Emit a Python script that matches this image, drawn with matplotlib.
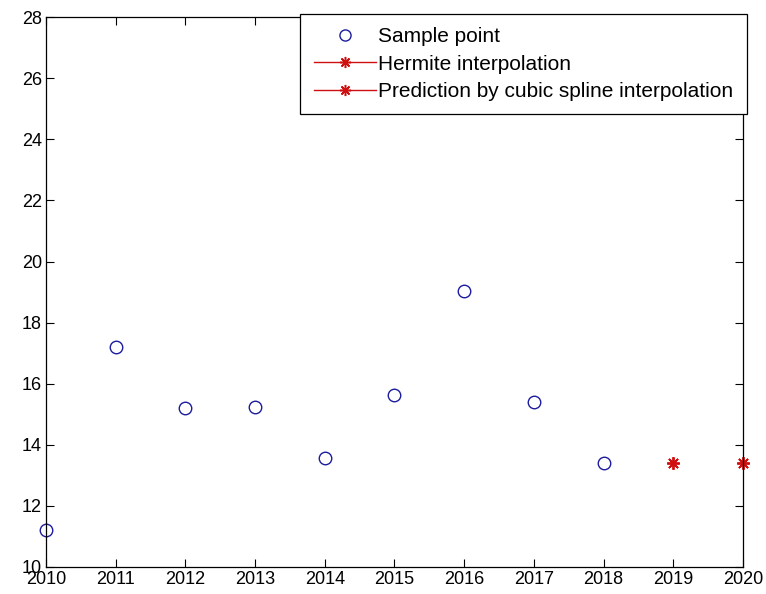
import matplotlib.pyplot as plt
from matplotlib.lines import Line2D

plt.rcParams['font.family'] = ['Liberation Sans', 'DejaVu Sans']

# Sample data
years = [2010, 2011, 2012, 2013, 2014, 2015, 2016, 2017, 2018]
values = [11.2, 17.2, 15.2, 15.24, 13.57, 15.63, 19.03, 15.4, 13.4]

# Predicted values
pred_years = [2019, 2020]
hermite_vals = [13.42, 13.42]
spline_vals = [13.42, 13.42]

blue = '#1c1c9e'
red = '#d01010'
star = (8, 2, 0)  # matlab style asterisk

fig = plt.figure(figsize=(7.66, 5.94), dpi=100)
ax = fig.add_axes([0.060, 0.0455, 0.910, 0.9255])

ax.plot(years, values, 'o', color=blue, markerfacecolor='none',
        markersize=9, markeredgewidth=1.0, clip_on=False)
ax.plot(pred_years, hermite_vals, linestyle='none', marker=star, color=red,
        markersize=9, markeredgewidth=1.2, clip_on=False)
ax.plot(pred_years, spline_vals, linestyle='none', marker=star, color=red,
        markersize=9, markeredgewidth=1.2, clip_on=False)

ax.set_xlim(2010, 2020)
ax.set_ylim(10, 28)
ax.set_xticks(range(2010, 2021))
ax.set_yticks(range(10, 29, 2))
ax.tick_params(direction='in', top=True, right=True, labelsize=13, length=6,
               width=0.8, pad=3)
for s in ax.spines.values():
    s.set_linewidth(0.9)

handles = [
    Line2D([], [], linestyle='none', marker='o', color=blue,
           markerfacecolor='none', markersize=8),
    Line2D([], [], linestyle='-', marker=star, color=red, markersize=8,
           markeredgewidth=1.1, linewidth=1),
    Line2D([], [], linestyle='-', marker=star, color=red, markersize=8,
           markeredgewidth=1.1, linewidth=1),
]
labels = ['Sample point', 'Hermite interpolation',
          'Prediction by cubic spline interpolation']
leg = fig.legend(handles, labels, loc='upper left', bbox_to_anchor=(0.392, 0.977),
                 fontsize=15, frameon=True, fancybox=False, edgecolor='black',
                 framealpha=1, borderpad=0.65, labelspacing=0.4, handlelength=3.0,
                 handletextpad=0.1, borderaxespad=0)
leg.get_frame().set_linewidth(0.9)

fig.savefig('out.png', dpi=100)
